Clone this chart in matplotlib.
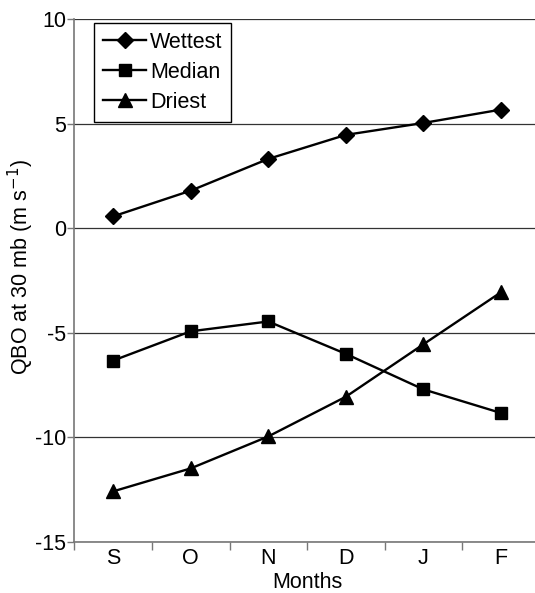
import matplotlib
matplotlib.use("Agg")
import matplotlib.pyplot as plt

# Data
months = ["S", "O", "N", "D", "J", "F"]
wettest = [0.56, 1.79, 3.31, 4.46, 5.03, 5.67]
median = [-6.34, -4.94, -4.47, -6.02, -7.72, -8.85]
driest = [-12.6, -11.5, -9.97, -8.07, -5.56, -3.07]

plt.rcParams["font.family"] = ["Liberation Sans", "DejaVu Sans"]
plt.rcParams["axes.unicode_minus"] = False
fs = 15.5

fig = plt.figure(figsize=(5.35, 5.93), dpi=100)
# axes run a little past the right edge, as in the cropped original
ax = fig.add_axes([0.139, 0.0868, 0.870, 0.881])

x = list(range(len(months)))
ax.plot(x, wettest, color="black", lw=1.7, marker="D", ms=8.5, label="Wettest")
ax.plot(x, median, color="black", lw=1.7, marker="s", ms=9, label="Median")
ax.plot(x, driest, color="black", lw=1.7, marker="^", ms=10, label="Driest")

ax.set_xlim(-0.5, 5.5)
ax.set_ylim(-15, 10)
ax.set_yticks([-15, -10, -5, 0, 5, 10])
ax.set_xticks(x)
ax.set_xticklabels(months)
ax.set_xticks([i + 0.5 for i in range(-1, 6)], minor=True)
ax.tick_params(axis="x", which="major", length=0, labelsize=fs, pad=5)
ax.tick_params(axis="x", which="minor", length=6, color="#777777", width=1)
ax.tick_params(axis="y", length=5, color="#777777", width=1, labelsize=fs, pad=1)

ax.grid(axis="y", color="#333333", lw=0.9)
ax.set_axisbelow(True)
for side in ["top", "right"]:
    ax.spines[side].set_visible(False)
for side in ["left", "bottom"]:
    ax.spines[side].set_color("#777777")
    ax.spines[side].set_linewidth(1.2)

ax.set_xlabel("Months", fontsize=fs, labelpad=2)
ax.set_ylabel("QBO at 30 mb (m s$^{-1}$)", fontsize=fs)
ax.yaxis.set_label_coords(-0.083, 0.526)

leg = ax.legend(loc="upper left", bbox_to_anchor=(0.043, 0.992), fontsize=fs,
                frameon=True, fancybox=False, edgecolor="black", framealpha=1,
                handlelength=2.0, handletextpad=0.2, borderpad=0.4, labelspacing=0.42,
                borderaxespad=0)
leg.get_frame().set_linewidth(1.0)

fig.savefig("out.png", dpi=100)
